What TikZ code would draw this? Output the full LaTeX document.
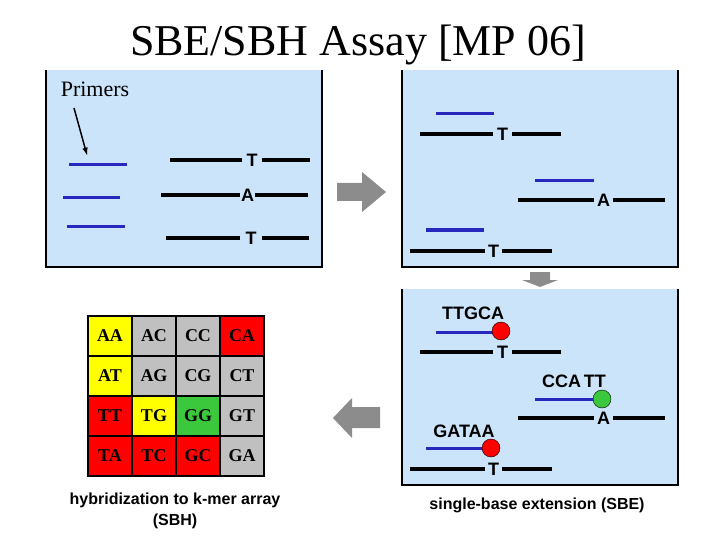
\documentclass[tikz,border=0pt]{standalone}
\usepackage{fontspec}
\setmainfont{Liberation Serif}
\newfontfamily\sans{Liberation Sans}
\begin{document}
\begin{tikzpicture}[x=1pt,y=-1pt,
 strand/.style={line width=3.5pt,black},
 primer/.style={line width=3pt,primblue},
 base/.style={font=\sans\bfseries\fontsize{18}{18}\selectfont,inner sep=0pt},
 lbl/.style={font=\sans\bfseries\fontsize{18}{18}\selectfont,inner sep=0pt},
 cell/.style={draw=black,line width=2.5pt,minimum width=44pt,minimum height=40pt,font=\bfseries\fontsize{18}{18}\selectfont,inner sep=0pt},
 garrow/.style={fill=gray!90,draw=none},
 captxt/.style={font=\sans\bfseries\fontsize{16}{21}\selectfont,align=center}]
\definecolor{boxblue}{RGB}{204,228,250}
\definecolor{primblue}{RGB}{40,40,190}
\definecolor{cy}{RGB}{255,255,0}
\definecolor{cg}{RGB}{192,192,192}
\definecolor{cr}{RGB}{255,0,0}
\definecolor{cgr}{RGB}{60,200,60}
\useasboundingbox (0,0) rectangle (720,540);
\node[font=\fontsize{44}{44}\selectfont] (title) at (358,45) {SBE/SBH Assay [MP 06]};
% boxes
\foreach \x/\y/\w/\h in {46/70/276/197, 402/70/276/197, 402/289/276/196}{
 \fill[boxblue] (\x,\y) rectangle ++(\w,\h);
 \draw[line width=2pt] (\x,\y) -- (\x,\y+\h) -- (\x+\w,\y+\h) -- (\x+\w,\y);
}
\node[font=\fontsize{22}{22}\selectfont] (prim) at (95,89) {Primers};
\coordinate (pa) at (74,108); \coordinate (pb) at (87,155);
\draw[line width=1.5pt,-latex] (pa) -- (pb);
\draw[primer] (69,165) -- (127,165);
\draw[primer] (63,198) -- (120,198);
\draw[primer] (67,227) -- (125,227);
% left strands
\foreach \a/\b/\c/\d/\y/\l in {170/242/262/310/160/T, 161/240/255/308/195/A, 166/240/262/309/238/T}{
 \draw[strand] (\a,\y) -- (\b,\y); \draw[strand] (\c,\y) -- (\d,\y);
 \node[base] at ({(\b+\c)/2},\y) {\l};
}
% right strands
\foreach \dy in {0,218}{
\begin{scope}[yshift=-\dy]
\foreach \a/\b/\c/\d/\y/\l in {420/493/512/561/134/T, 518/594/613/665/200/A, 410/485/502/552/251/T}{
 \draw[strand] (\a,\y) -- (\b,\y); \draw[strand] (\c,\y) -- (\d,\y);
 \node[base] at ({(\b+\c)/2},\y) {\l};
}
\end{scope}}
\draw[primer] (436,114) -- (494,114);
\draw[primer] (535,181) -- (594,181);
\draw[primer] (426,230) -- (484,230);
\draw[primer] (436,332) -- (494,332);
\draw[primer] (535,399) -- (594,399);
\draw[primer] (426,448) -- (484,448);
\node[circle,fill=cr,draw=black,minimum size=18pt,inner sep=0pt] (c1) at (501,331) {};
\node[circle,fill=cgr,draw=black,minimum size=18pt,inner sep=0pt] (c2) at (602,399) {};
\node[circle,fill=cr,draw=black,minimum size=18pt,inner sep=0pt] (c3) at (491,448) {};
\node[lbl] (l1) at (473,313) {TTGCA};
\node[lbl] (l2) at (574,381) {CCA\,TT};
\node[lbl] (l3) at (464,431) {GATAA};
% gray arrows
\fill[garrow] (337,183) -- (362,183) -- (362,172) -- (386,192) -- (362,212) -- (362,201) -- (337,201) -- cycle;
\fill[garrow] (530,272) -- (550,272) -- (550,280) -- (558,280) -- (540,287) -- (522,280) -- (530,280) -- cycle;
\fill[garrow] (380,407) -- (352,407) -- (352,398) -- (333,418) -- (352,438) -- (352,428) -- (380,428) -- cycle;
% grid
\foreach \t/\c [count=\i from 0] in {AA/cy,AC/cg,CC/cg,CA/cr,AT/cy,AG/cg,CG/cg,CT/cg,TT/cr,TG/cy,GG/cgr,GT/cg,TA/cr,TC/cr,GC/cr,GA/cg}{
 \pgfmathtruncatemacro\col{mod(\i,4)}
 \pgfmathtruncatemacro\row{div(\i,4)}
 \node[cell,fill=\c] (g\i) at ({110+44*\col},{336+40*\row}) {\t};
}
\node[captxt] (cl) at (175,511) {hybridization to k-mer array\\(SBH)};
\node[captxt] (cr2) at (537,505) {single-base extension (SBE)};
\end{tikzpicture}
\end{document}
